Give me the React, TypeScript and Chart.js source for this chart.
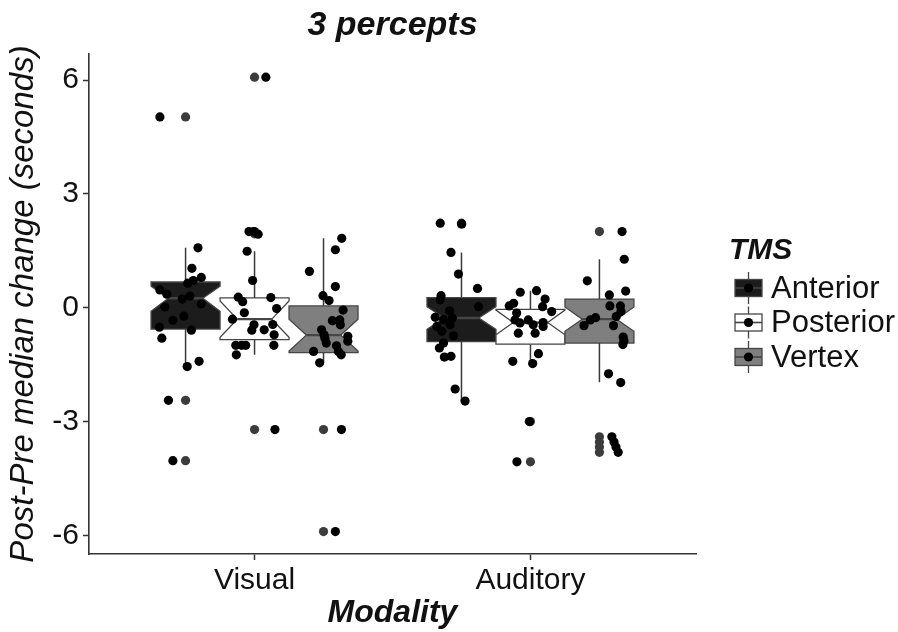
import { useEffect, useRef } from "react";
import { Chart, registerables } from "chart.js";

Chart.register(...registerables);

const modalities = ["Visual", "Auditory"];
const tmsSites = ["Anterior", "Posterior", "Vertex"];
const yTicks = [-6, -3, 0, 3, 6];

// Box statistics, in group order:
// Visual (Anterior, Posterior, Vertex), Auditory (Anterior, Posterior, Vertex)
const whiskerLow = [-1.55, -1.24, -1.45, -2.46, -1.47, -1.96];
const lowerHinge = [-0.56, -0.84, -1.18, -0.89, -0.96, -0.93];
const notchLow = [-0.09, -0.78, -1.14, -0.57, -0.71, -0.62];
const medians = [0.25, -0.3, -0.72, -0.27, -0.39, -0.3];
const notchHigh = [0.57, 0.18, -0.3, 0.03, -0.06, 0.02];
const upperHinge = [0.68, 0.26, 0.05, 0.27, -0.04, 0.23];
const whiskerHigh = [1.58, 1.49, 1.83, 1.46, 0.45, 1.28];
const outliers = [
  [5.03, -2.44, -4.03],
  [6.08, 2.01, 1.95, -3.21],
  [-3.21, -5.9],
  [2.23, 2.21],
  [-3.0, -4.06],
  [2.01, -3.4, -3.54, -3.67, -3.81],
];

// Individual participants: [horizontal jitter, change in seconds]
const visualAnterior = [
  [-0.093, 5.03], [-0.062, -2.44], [-0.046, -4.03], [0.045, 1.58], [0.023, 1.04],
  [0.057, 0.8], [0.028, 0.72], [0.008, 0.65], [-0.093, 0.47], [-0.068, 0.36],
  [-0.012, 0.23], [0.016, 0.31], [-0.075, 0.02], [0.057, 0.1], [-0.006, -0.22],
  [-0.046, -0.33], [-0.095, -0.51], [0.021, -0.59], [-0.086, -0.8], [0.006, -1.55],
  [0.049, -1.41],
];
const visualPosterior = [
  [0.041, 6.08], [0.074, -3.21], [-0.02, 2.01], [-0.003, 2.01], [0.013, 1.94],
  [-0.027, 1.49], [-0.007, 0.72], [-0.059, 0.28], [-0.043, 0.16], [0.059, 0.27],
  [0.08, -0.02], [-0.037, -0.13], [-0.08, -0.3], [-0.002, -0.45], [-0.01, -0.59],
  [0.035, -0.58], [0.066, -0.44], [0.071, -0.71], [-0.068, -0.99], [-0.047, -0.99],
  [-0.032, -0.99], [0.07, -0.99], [-0.066, -1.24],
];
const visualVertex = [
  [0.065, -3.21], [0.043, -5.9], [0.066, 1.83], [0.043, 1.53], [-0.051, 0.96],
  [0.043, 0.56], [-0.002, 0.32], [0.02, 0.19], [0.071, -0.06], [0.032, -0.34],
  [0.059, -0.32], [0.061, -0.45], [-0.007, -0.58], [0.002, -0.71], [0.005, -0.8],
  [0.01, -0.93], [0.088, -0.75], [0.088, -0.88], [0.047, -1.0], [-0.036, -1.15],
  [0.054, -1.15], [0.064, -1.24], [-0.014, -1.45],
];
const auditoryAnterior = [
  [-0.077, 2.23], [0.001, 2.21], [-0.038, 1.46], [-0.011, 0.89], [0.058, 0.51],
  [-0.074, 0.32], [-0.077, 0.21], [0.062, 0.03], [-0.043, -0.08], [-0.095, -0.25],
  [-0.065, -0.31], [-0.033, -0.27], [-0.089, -0.49], [-0.041, -0.45], [-0.071, -0.62],
  [-0.029, -0.74], [-0.065, -0.93], [-0.08, -1.06], [-0.062, -1.3], [-0.038, -1.28],
  [-0.023, -2.14], [0.013, -2.46],
];
const auditoryPosterior = [
  [-0.004, -3.0], [-0.049, -4.06], [-0.037, 0.41], [0.022, 0.45], [0.053, 0.23],
  [-0.077, 0.05], [-0.061, 0.12], [0.044, 0.03], [0.077, -0.1], [-0.05, -0.14],
  [-0.056, -0.32], [-0.038, -0.4], [-0.008, -0.32], [0.01, -0.45], [0.046, -0.39],
  [0.046, -0.49], [-0.044, -0.67], [0.017, -0.67], [-0.064, -1.41], [0.008, -1.47],
  [0.029, -1.21],
];
const auditoryVertex = [
  [0.082, 2.01], [0.045, -3.4], [0.053, -3.54], [0.06, -3.67], [0.068, -3.81],
  [0.09, 1.28], [-0.044, 0.71], [0.036, 0.34], [0.095, 0.44], [0.038, 0.05],
  [0.076, 0.05], [0.078, -0.1], [0.061, -0.23], [-0.014, -0.26], [-0.033, -0.32],
  [-0.056, -0.47], [0.051, -0.47], [0.086, -0.77], [0.089, -0.87], [0.085, -0.97],
  [0.033, -1.74], [0.077, -1.97],
];

const groupPoints = [
  visualAnterior, visualPosterior, visualVertex,
  auditoryAnterior, auditoryPosterior, auditoryVertex,
];

const siteFill = ["#1c1c1c", "#ffffff", "#7f7f7f"];
const FONT = "'Liberation Sans', Arial, sans-serif";
const DODGE = 0.25; // width of each box in category units
const NOTCH_WIDTH = 0.5;
const DOT_RADIUS = 4.6;

const groupCenter = (g: number) => {
  const m = Math.floor(g / 3);
  const s = g % 3;
  return m + 1 + (s - 1) * DODGE;
};

const boxPlugin = {
  id: "notchedBoxes",
  beforeDatasetsDraw(chart: any) {
    const { ctx } = chart;
    const xs = chart.scales.x;
    const ys = chart.scales.y;
    ctx.save();
    for (let g = 0; g < medians.length; g++) {
      const c = groupCenter(g);
      const xc = xs.getPixelForValue(c);
      const x0 = xs.getPixelForValue(c - DODGE / 2);
      const x1 = xs.getPixelForValue(c + DODGE / 2);
      const indent = ((x1 - x0) / 2) * (1 - NOTCH_WIDTH);
      const py = (v: number) => ys.getPixelForValue(v);

      // whiskers
      ctx.strokeStyle = "#3a3a3a";
      ctx.lineWidth = 1.5;
      ctx.beginPath();
      ctx.moveTo(xc, py(upperHinge[g]));
      ctx.lineTo(xc, py(whiskerHigh[g]));
      ctx.moveTo(xc, py(lowerHinge[g]));
      ctx.lineTo(xc, py(whiskerLow[g]));
      ctx.stroke();

      // notched box
      ctx.beginPath();
      ctx.moveTo(x0, py(upperHinge[g]));
      ctx.lineTo(x0, py(notchHigh[g]));
      ctx.lineTo(x0 + indent, py(medians[g]));
      ctx.lineTo(x0, py(notchLow[g]));
      ctx.lineTo(x0, py(lowerHinge[g]));
      ctx.lineTo(x1, py(lowerHinge[g]));
      ctx.lineTo(x1, py(notchLow[g]));
      ctx.lineTo(x1 - indent, py(medians[g]));
      ctx.lineTo(x1, py(notchHigh[g]));
      ctx.lineTo(x1, py(upperHinge[g]));
      ctx.closePath();
      ctx.fillStyle = siteFill[g % 3];
      ctx.fill();
      ctx.strokeStyle = "#454545";
      ctx.lineWidth = 1.3;
      ctx.stroke();

      // median
      ctx.beginPath();
      ctx.moveTo(x0 + indent, py(medians[g]));
      ctx.lineTo(x1 - indent, py(medians[g]));
      ctx.lineWidth = 2.4;
      ctx.strokeStyle = "#454545";
      ctx.stroke();
    }
    ctx.restore();
  },
};

const legendPlugin = {
  id: "tmsLegend",
  afterDraw(chart: any) {
    const { ctx } = chart;
    ctx.save();
    ctx.fillStyle = "#111";
    ctx.textBaseline = "middle";
    ctx.textAlign = "left";
    ctx.font = `italic bold 30px ${FONT}`;
    ctx.fillText("TMS", 729, 251);
    const kx0 = 735;
    const kw = 27;
    const rowY = [288, 322.5, 357];
    tmsSites.forEach((site, i) => {
      const cy = rowY[i];
      const cx = kx0 + kw / 2;
      ctx.strokeStyle = "#454545";
      ctx.lineWidth = 1.3;
      ctx.beginPath();
      ctx.moveTo(cx, cy - 16);
      ctx.lineTo(cx, cy + 16);
      ctx.stroke();
      ctx.fillStyle = siteFill[i];
      ctx.fillRect(kx0, cy - 8.5, kw, 17);
      ctx.strokeRect(kx0, cy - 8.5, kw, 17);
      ctx.beginPath();
      ctx.moveTo(kx0, cy);
      ctx.lineTo(kx0 + kw, cy);
      ctx.lineWidth = 1.6;
      ctx.stroke();
      ctx.fillStyle = "#000";
      ctx.beginPath();
      ctx.arc(cx, cy, DOT_RADIUS, 0, Math.PI * 2);
      ctx.fill();
      ctx.fillStyle = "#111";
      ctx.font = `31px ${FONT}`;
      ctx.fillText(site, 771, cy + 1);
    });
    ctx.restore();
  },
};

export default function App() {
  const canvasRef = useRef<HTMLCanvasElement | null>(null);

  useEffect(() => {
    const canvas = canvasRef.current;
    if (!canvas) return;

    const jitterData: { x: number; y: number }[] = [];
    groupPoints.forEach((pts, g) => {
      pts.forEach(([dx, v]) => jitterData.push({ x: groupCenter(g) + dx, y: v }));
    });
    const outlierData: { x: number; y: number }[] = [];
    outliers.forEach((vals, g) => {
      vals.forEach((v) => outlierData.push({ x: groupCenter(g), y: v }));
    });

    const chart = new Chart(canvas, {
      type: "scatter",
      data: {
        datasets: [
          {
            label: "participants",
            data: jitterData,
            backgroundColor: "#000",
            borderWidth: 0,
            pointRadius: DOT_RADIUS,
            order: 0,
          },
          {
            label: "outliers",
            data: outlierData,
            backgroundColor: "#3c3c3c",
            borderWidth: 0,
            pointRadius: DOT_RADIUS,
            order: 1,
          },
        ],
      },
      options: {
        responsive: false,
        animation: false,
        events: [],
        layout: { padding: { top: 0, left: 0, right: 202, bottom: 0 } },
        plugins: {
          legend: { display: false },
          tooltip: { enabled: false },
          title: {
            display: true,
            text: "3 percepts",
            fullSize: false,
            color: "#111",
            font: { family: FONT, size: 34, style: "italic", weight: "bold" },
            padding: { top: 5, bottom: 8.2 },
          },
        },
        scales: {
          x: {
            type: "linear",
            min: 0.4,
            max: 2.6,
            afterBuildTicks: (s: any) => {
              s.ticks = modalities.map((_, i) => ({ value: i + 1 }));
            },
            afterFit: (s: any) => {
              s.height = 78;
            },
            ticks: {
              callback: (v: any) => modalities[Number(v) - 1],
              color: "#111",
              font: { family: FONT, size: 30 },
              padding: 3,
              maxRotation: 0,
            },
            grid: {
              drawOnChartArea: false,
              drawTicks: true,
              tickLength: 6,
              tickColor: "#333",
              tickWidth: 1.5,
            },
            border: { display: true, color: "#333", width: 1.6 },
            title: {
              display: true,
              text: "Modality",
              color: "#111",
              font: { family: FONT, size: 32, style: "italic", weight: "bold" },
              padding: { top: 0, bottom: 0 },
            },
          },
          y: {
            type: "linear",
            min: -6.49,
            max: 6.69,
            afterBuildTicks: (s: any) => {
              s.ticks = yTicks.map((v) => ({ value: v }));
            },
            afterFit: (s: any) => {
              s.width = 89;
            },
            ticks: {
              callback: (v: any) => String(v),
              color: "#111",
              font: { family: FONT, size: 30 },
              padding: 4,
            },
            grid: {
              drawOnChartArea: false,
              drawTicks: true,
              tickLength: 6,
              tickColor: "#333",
              tickWidth: 1.5,
            },
            border: { display: true, color: "#333", width: 1.6 },
            title: {
              display: true,
              text: "Post-Pre median change (seconds)",
              color: "#111",
              font: { family: FONT, size: 33, style: "italic" },
              padding: { top: 4, bottom: 0 },
            },
          },
        },
      },
      plugins: [boxPlugin, legendPlugin],
    });

    return () => chart.destroy();
  }, []);

  return (
    <div style={{ position: "absolute", left: 0, top: 0, width: 898, height: 632, background: "#fff" }}>
      <canvas ref={canvasRef} width={898} height={632} style={{ display: "block" }} />
    </div>
  );
}
